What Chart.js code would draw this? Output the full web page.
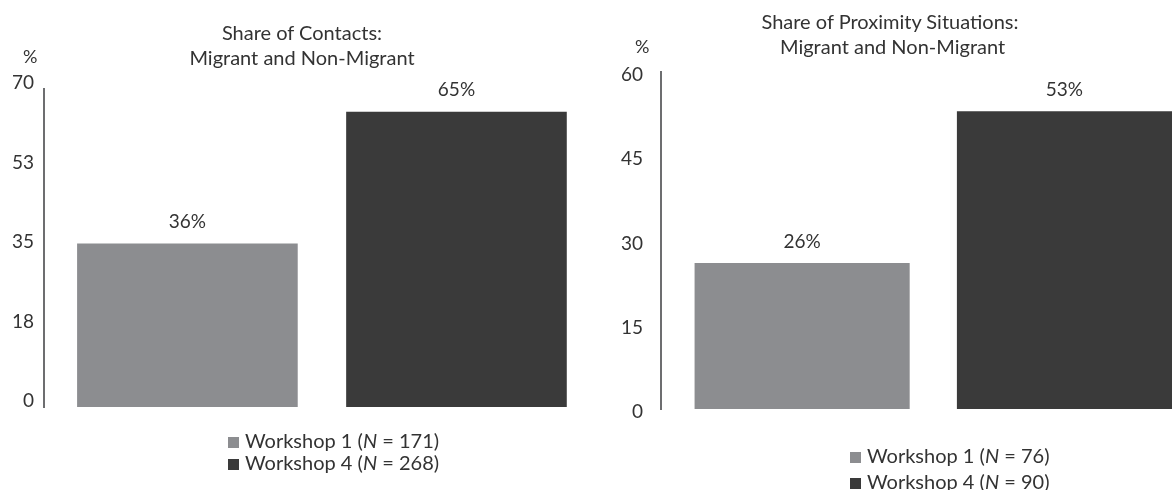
<!DOCTYPE html>
<html>
<head>
<meta charset="utf-8">
<script src="https://cdn.jsdelivr.net/npm/chart.js@4.4.1/dist/chart.umd.min.js"></script>
<style>
    html, body { margin: 0; padding: 0; background: #fff; overflow: hidden; }
    body { width: 1172px; height: 490px; position: relative; font-family: 'Lato', sans-serif; color: #333; }
    .box { position: absolute; top: 0; height: 490px; }
    #left-box { left: 0; width: 600px; }
    #right-box { left: 600px; width: 572px; }
    .title { position: absolute; text-align: center; font-size: 20px; line-height: 25px; white-space: pre; }
    .unit { position: absolute; font-size: 18px; }
    .legend { position: absolute; font-size: 20px; }
    .legend div { position: relative; white-space: nowrap; }
    .legend span.sw { display: inline-block; width: 11px; height: 11px; margin-right: 6px; vertical-align: 0px; }
</style>
</head>
<body>
<div class="box" id="left-box"><canvas id="contacts"></canvas></div>
<div class="box" id="right-box"><canvas id="proximity"></canvas></div>

<div class="title" style="left:0; width:604px; top:20px;">Share of Contacts:
Migrant and Non-Migrant</div>
<div class="title" style="left:600px; width:580px; top:9px;">Share of Proximity Situations:
 Migrant and Non-Migrant</div>
<div class="unit" style="left:23px; top:45px;">%</div>
<div class="unit" style="left:635px; top:35px;">%</div>
<div class="legend" id="contacts-legend" style="left:228px; top:429px; line-height:22px;"></div>
<div class="legend" id="proximity-legend" style="left:850px; top:442px; line-height:26px;"></div>

<script>
// data
var seriesNames = ['Workshop 1', 'Workshop 4'];
var seriesColors = ['#8c8d90', '#3a3a3a'];

var contactsValues = [36, 65];
var contactsN = [171, 268];
var contactsTicks = ['0', '18', '35', '53', '70'];

var proximityValues = [26, 53];
var proximityN = [76, 90];
var proximityTicks = ['0', '15', '30', '45', '60'];

// draws "36%" etc above each bar
var valueLabels = {
    id: 'valueLabels',
    afterDatasetsDraw: function (chart) {
        var ctx = chart.ctx;
        ctx.save();
        ctx.font = '19px Lato';
        ctx.fillStyle = '#333';
        ctx.textAlign = 'center';
        ctx.textBaseline = 'bottom';
        chart.data.datasets.forEach(function (ds, i) {
            var bar = chart.getDatasetMeta(i).data[0];
            ctx.fillText(Math.round(ds.data[0].y) + '%', bar.x, bar.y - 12);
        });
        ctx.restore();
    }
};

function makeChart(id, values, ticks, yMax, opts) {
    var datasets = values.map(function (v, i) {
        return {
            label: seriesNames[i],
            data: [{ x: i, y: v }],
            backgroundColor: seriesColors[i],
            borderWidth: 0
        };
    });
    return new Chart(document.getElementById(id), {
        type: 'bar',
        data: { datasets: datasets },
        plugins: [valueLabels],
        options: {
            responsive: false,
            animation: false,
            grouped: false,
            barPercentage: 0.82,
            categoryPercentage: 1,
            layout: { padding: opts.padding },
            scales: {
                x: {
                    type: 'linear',
                    display: false,
                    offset: false,
                    bounds: 'data',
                    min: opts.xMin,
                    max: opts.xMax,
                    afterBuildTicks: function (scale) {
                        scale.ticks = values.map(function (v, i) { return { value: i }; });
                    }
                },
                y: {
                    min: 0,
                    max: yMax,
                    grid: { display: false, drawTicks: false },
                    border: { display: true, color: '#6d6e70', width: 2 },
                    ticks: {
                        stepSize: yMax / 4,
                        padding: opts.tickPad,
                        labelOffset: opts.labelOffset,
                        color: '#333',
                        font: { family: 'Lato', size: 19 },
                        callback: function (v, idx) { return ticks[idx]; }
                    },
                    afterFit: function (scale) { scale.width = opts.axisWidth; }
                }
            },
            plugins: {
                legend: { display: false },
                tooltip: { enabled: false }
            }
        }
    });
}

function makeLegend(id, nValues) {
    var el = document.getElementById(id);
    seriesNames.forEach(function (name, i) {
        var row = document.createElement('div');
        row.innerHTML = '<span class="sw" style="background:' + seriesColors[i] + '"></span>' +
            name + ' (<i>N</i> = ' + nValues[i] + ')';
        el.appendChild(row);
    });
}

var c1 = document.getElementById('contacts');
c1.width = 600; c1.height = 490;
var c2 = document.getElementById('proximity');
c2.width = 572; c2.height = 490;

makeChart('contacts', contactsValues, contactsTicks, 70, {
    padding: { left: 0, right: 9, top: 89, bottom: 83 },
    axisWidth: 44, tickPad: 10, labelOffset: -6,
    xMin: -0.533, xMax: 1.5
});

makeChart('proximity', proximityValues, proximityTicks, 60, {
    padding: { left: 0, right: 0, top: 72, bottom: 81 },
    axisWidth: 61, tickPad: 18, labelOffset: 3,
    xMin: -0.538, xMax: 1.41
});

makeLegend('contacts-legend', contactsN);
makeLegend('proximity-legend', proximityN);
</script>
</body>
</html>
